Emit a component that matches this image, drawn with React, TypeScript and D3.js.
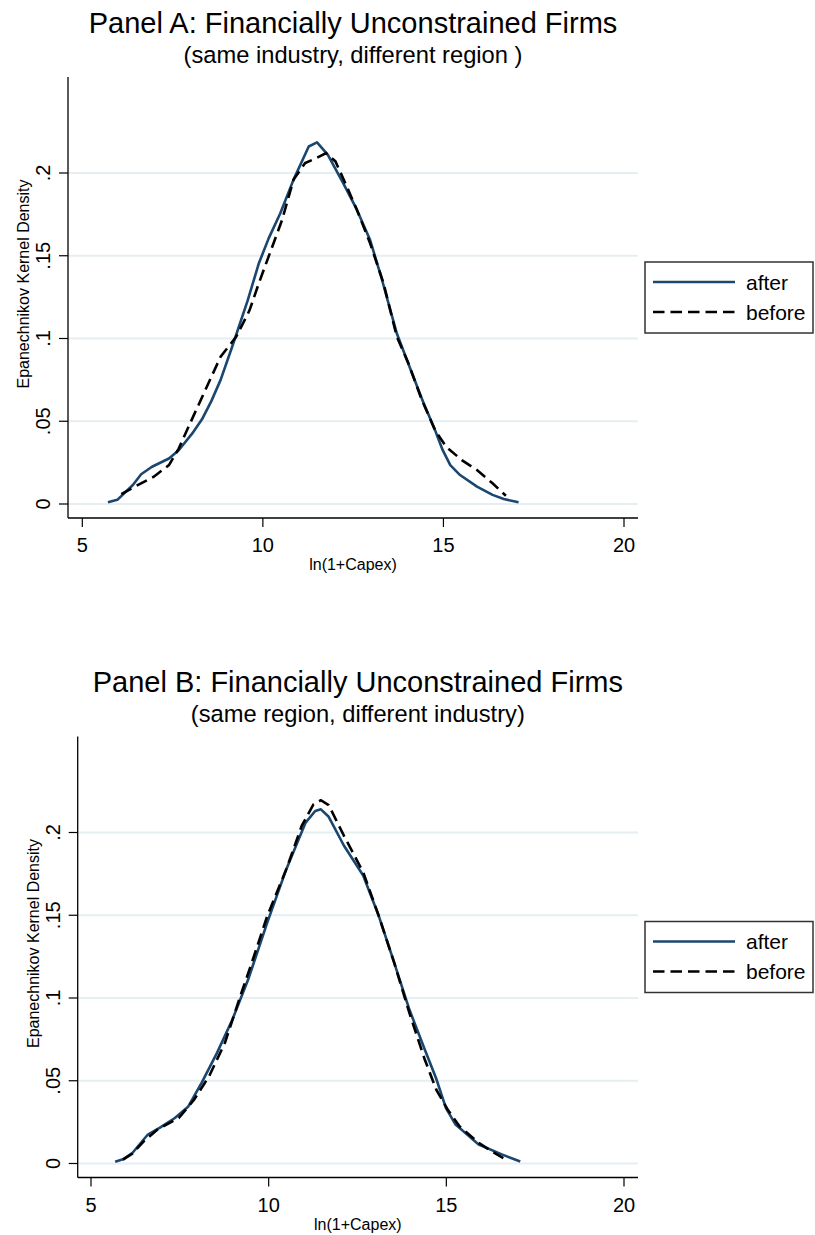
import * as d3 from 'd3';

const FONT = '"Liberation Sans", Arial, Helvetica, sans-serif';
const AFTER_COLOR = '#1a476f';
const GRID_COLOR = '#e6eef1';
const DASH = '11.5 6';

const xTicks = [5, 10, 15, 20];
const yTicks = [0, 0.05, 0.1, 0.15, 0.2];
const yTickLabels = ['0', '.05', '.1', '.15', '.2'];
const seriesNames = ['after', 'before'];

// Panel A: same industry, different region
const afterA: [number, number][] = [
  [5.71, 0.001], [5.97, 0.0025], [6.4, 0.0115], [6.63, 0.018], [6.93, 0.0225],
  [7.4, 0.0275], [7.67, 0.0325], [8.04, 0.0425], [8.31, 0.051], [8.57, 0.062],
  [8.83, 0.075], [9.15, 0.095], [9.58, 0.123], [9.89, 0.1455], [10.16, 0.1605],
  [10.48, 0.1755], [10.85, 0.196], [11.27, 0.216], [11.5, 0.2185], [11.8, 0.211],
  [12.22, 0.194], [12.6, 0.178], [12.97, 0.1595], [13.28, 0.137], [13.71, 0.103],
  [14.13, 0.079], [14.45, 0.061], [14.77, 0.0445], [14.98, 0.0325], [15.19, 0.0235],
  [15.46, 0.0175], [15.93, 0.0105], [16.36, 0.0055], [16.67, 0.003], [17.08, 0.001],
];
const beforeA: [number, number][] = [
  [6.08, 0.006], [6.5, 0.011], [6.98, 0.0165], [7.4, 0.0235], [7.67, 0.0335],
  [7.99, 0.049], [8.41, 0.069], [8.83, 0.089], [9.26, 0.101], [9.63, 0.117],
  [9.89, 0.1335], [10.21, 0.1525], [10.53, 0.1715], [10.85, 0.196], [11.17, 0.206],
  [11.48, 0.209], [11.75, 0.212], [12.01, 0.207], [12.28, 0.194], [12.6, 0.178],
  [12.97, 0.1575], [13.34, 0.1335], [13.71, 0.101], [14.03, 0.085], [14.4, 0.063],
  [14.77, 0.0445], [15.08, 0.0345], [15.51, 0.0265], [15.93, 0.0205], [16.36, 0.0125],
  [16.73, 0.005],
];

// Panel B: same region, different industry
const afterB: [number, number][] = [
  [5.68, 0.001], [5.9, 0.0025], [6.17, 0.0065], [6.6, 0.0175], [6.93, 0.0215],
  [7.36, 0.0275], [7.74, 0.0345], [8.12, 0.049], [8.55, 0.067], [8.98, 0.087],
  [9.42, 0.111], [9.96, 0.1455], [10.5, 0.178], [11.04, 0.206], [11.31, 0.213],
  [11.47, 0.214], [11.69, 0.2095], [12.12, 0.192], [12.66, 0.174], [13.1, 0.1495],
  [13.53, 0.1215], [13.96, 0.093], [14.39, 0.069], [14.72, 0.051], [14.99, 0.0335],
  [15.26, 0.0235], [15.91, 0.0115], [16.56, 0.0055], [17.08, 0.0012],
];
const beforeB: [number, number][] = [
  [5.9, 0.0024], [6.17, 0.006], [6.49, 0.0135], [6.87, 0.0205], [7.47, 0.0275],
  [7.9, 0.0385], [8.33, 0.053], [8.77, 0.073], [9.2, 0.101], [9.52, 0.121],
  [9.96, 0.1495], [10.5, 0.178], [10.93, 0.204], [11.26, 0.217], [11.47, 0.2195],
  [11.69, 0.2165], [12.12, 0.198], [12.66, 0.176], [13.1, 0.1495], [13.53, 0.1215],
  [13.96, 0.091], [14.39, 0.063], [14.72, 0.0445], [15.04, 0.0325], [15.37, 0.0225],
  [15.91, 0.0125], [16.34, 0.0065], [16.67, 0.0024],
];

type PanelProps = {
  top: number;
  axisX: number;
  x5: number;
  title: string;
  subtitle: string;
  after: [number, number][];
  before: [number, number][];
};

function Panel({ top, axisX, x5, title, subtitle, after, before }: PanelProps) {
  const right = 638;
  const plotTop = top + 77;
  const axisY = top + 518;
  const x = d3.scaleLinear().domain([5, 20]).range([x5, 624]);
  const y = d3.scaleLinear().domain([0, 0.2]).range([top + 504, top + 173]);
  const line = d3.line<[number, number]>().x(d => x(d[0])).y(d => y(d[1]));
  const cx = (axisX + right) / 2;
  const lg = { x: 645, y: top + 262, w: 168, h: 71 };

  return (
    <g>
      <text x={cx} y={top + 32.5} textAnchor="middle" fontSize={29} fill="#000">{title}</text>
      <text x={cx} y={top + 62.5} textAnchor="middle" fontSize={23.7} fill="#000">{subtitle}</text>

      {yTicks.map(v => (
        <line key={'g' + v} x1={axisX} x2={right} y1={y(v)} y2={y(v)} stroke={GRID_COLOR} strokeWidth={1.8} />
      ))}

      <path d={line(after) ?? ''} fill="none" stroke={AFTER_COLOR} strokeWidth={2.6} strokeLinejoin="round" />
      <path d={line(before) ?? ''} fill="none" stroke="#000" strokeWidth={2.6} strokeDasharray={DASH} />

      {/* axes */}
      <line x1={axisX} x2={axisX} y1={plotTop} y2={axisY} stroke="#000" strokeWidth={1.3} />
      <line x1={axisX} x2={right} y1={axisY} y2={axisY} stroke="#000" strokeWidth={1.3} />

      {yTicks.map((v, i) => (
        <g key={'yt' + v}>
          <line x1={axisX - 9} x2={axisX} y1={y(v)} y2={y(v)} stroke="#000" strokeWidth={1.2} />
          <text transform={`translate(${axisX - 18},${y(v)}) rotate(-90)`} textAnchor="middle" fontSize={20}>
            {yTickLabels[i]}
          </text>
        </g>
      ))}
      {xTicks.map(v => (
        <g key={'xt' + v}>
          <line x1={x(v)} x2={x(v)} y1={axisY} y2={axisY + 9} stroke="#000" strokeWidth={1.2} />
          <text x={x(v)} y={axisY + 34} textAnchor="middle" fontSize={20}>{v}</text>
        </g>
      ))}

      <text x={cx} y={axisY + 52} textAnchor="middle" fontSize={16}>ln(1+Capex)</text>
      <text transform={`translate(${axisX - 39},${top + 284}) rotate(-90)`} textAnchor="middle" fontSize={16}>
        Epanechnikov Kernel Density
      </text>

      {/* legend */}
      <rect x={lg.x} y={lg.y} width={lg.w} height={lg.h} fill="#fff" stroke="#333" strokeWidth={1.5} />
      <line x1={653} x2={735} y1={lg.y + 20} y2={lg.y + 20} stroke={AFTER_COLOR} strokeWidth={2.6} />
      <line x1={653} x2={735} y1={lg.y + 50} y2={lg.y + 50} stroke="#000" strokeWidth={2.6} strokeDasharray={DASH} />
      <text x={746} y={lg.y + 27.5} fontSize={21}>{seriesNames[0]}</text>
      <text x={746} y={lg.y + 57.5} fontSize={21}>{seriesNames[1]}</text>
    </g>
  );
}

export default function App() {
  return (
    <svg
      width={815}
      height={1235}
      style={{ position: 'absolute', left: 0, top: 0, background: '#fff' }}
      fontFamily={FONT}
    >
      <rect width={815} height={1235} fill="#fff" />
      <Panel
        top={0}
        axisX={68}
        x5={82.3}
        title="Panel A: Financially Unconstrained Firms"
        subtitle="(same industry, different region )"
        after={afterA}
        before={beforeA}
      />
      <Panel
        top={659.5}
        axisX={77.7}
        x5={91}
        title="Panel B: Financially Unconstrained Firms"
        subtitle="(same region, different industry)"
        after={afterB}
        before={beforeB}
      />
    </svg>
  );
}
